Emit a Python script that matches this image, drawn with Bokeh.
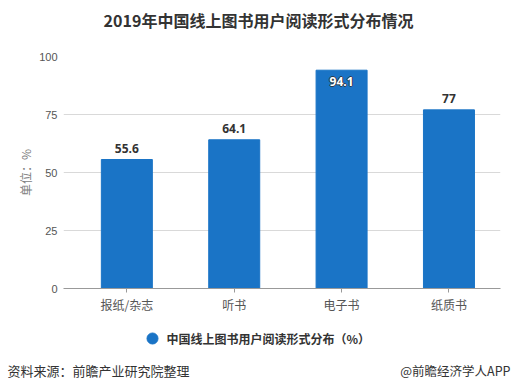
from bokeh.plotting import figure
from bokeh.layouts import column
from bokeh.models import FixedTicker, ColumnDataSource, Range1d
from bokeh.core.properties import value
from bokeh.embed import file_html
from bokeh.resources import INLINE

categories = ["报纸/杂志", "听书", "电子书", "纸质书"]
values = [55.6, 64.1, 94.1, 77]
value_labels = ["55.6", "64.1", "94.1", "77"]
y_ticks = [0, 25, 50, 75, 100]
title_text = "2019年中国线上图书用户阅读形式分布情况"
legend_text = "中国线上图书用户阅读形式分布（%）"
source_text = "资料来源：前瞻产业研究院整理"
brand_text = "@前瞻经济学人APP"
y_label = "单位：%"

FONT = "Noto Sans CJK SC"
BAR = "#1a74c6"
W = 516
H_HEAD, H_MAIN, H_FOOT = 40, 280, 71


def blank(h):
    f = figure(width=W, height=h, output_backend="svg", toolbar_location=None,
               x_range=Range1d(0, W), y_range=Range1d(h, 0),
               x_axis_location=None, y_axis_location=None, min_border=0,
               frame_align=False)
    f.grid.visible = False
    f.outline_line_color = None
    f.background_fill_color = "white"
    f.border_fill_color = "white"
    return f


# header
head = blank(H_HEAD)
head.text(x=[258], y=[19], text=[title_text], text_align="center", text_baseline="middle",
          text_font=value(FONT), text_font_size="16px", text_font_style="bold",
          text_color="#333333")

# main chart
xs = list(range(len(categories)))
p = figure(width=W, height=H_MAIN, output_backend="svg", toolbar_location=None,
           x_range=Range1d(-0.59, 3.48), y_range=Range1d(0, 100),
           min_border_left=63, min_border_right=16, min_border_top=16, min_border_bottom=32,
           frame_align=False)
p.outline_line_color = None
p.background_fill_color = "white"
p.border_fill_color = "white"

src = ColumnDataSource(dict(x=xs, top=values))
p.vbar(x="x", top="top", width=0.475, source=src, color=BAR)

inside = [v > 90 for v in values]
out_src = ColumnDataSource(dict(x=[x for x, i in zip(xs, inside) if not i],
                                y=[v for v, i in zip(values, inside) if not i],
                                lab=[l for l, i in zip(value_labels, inside) if not i]))
in_src = ColumnDataSource(dict(x=[x for x, i in zip(xs, inside) if i],
                               y=[v for v, i in zip(values, inside) if i],
                               lab=[l for l, i in zip(value_labels, inside) if i]))
p.text(x="x", y="y", text="lab", source=out_src, text_align="center", text_baseline="bottom",
       y_offset=-7, text_font=value("Open Sans"), text_font_style="bold", text_font_size="12px",
       text_color="#333333")
for dx, dy in [(-1, 0), (1, 0), (0, -1), (0, 1)]:
    p.text(x="x", y="y", text="lab", source=in_src, text_align="center", text_baseline="top",
           x_offset=dx, y_offset=7 + dy, text_font=value("Open Sans"), text_font_style="bold",
           text_font_size="12px", text_color="#2a3a4a")
p.text(x="x", y="y", text="lab", source=in_src, text_align="center", text_baseline="top",
       y_offset=7, text_font=value("Open Sans"), text_font_style="bold", text_font_size="12px",
       text_color="white")

p.xaxis.ticker = FixedTicker(ticks=xs)
p.xaxis.major_label_overrides = {i: c for i, c in enumerate(categories)}
p.xaxis.major_tick_line_color = "#999999"
p.xaxis.major_tick_in = 0
p.xaxis.major_tick_out = 4
p.xaxis.minor_tick_line_color = None
p.xaxis.axis_line_color = "#999999"
p.xaxis.major_label_text_font = FONT
p.xaxis.major_label_text_font_size = "12px"
p.xaxis.major_label_text_color = "#555555"
p.xaxis.major_label_standoff = 3
p.xgrid.grid_line_color = None

p.yaxis.ticker = FixedTicker(ticks=y_ticks)
p.yaxis.axis_line_color = None
p.yaxis.major_tick_line_color = None
p.yaxis.major_tick_in = 0
p.yaxis.major_tick_out = 0
p.yaxis.minor_tick_line_color = None
p.yaxis.major_label_text_font = "Liberation Sans"
p.yaxis.major_label_text_font_size = "11px"
p.yaxis.major_label_text_color = "#555555"
p.yaxis.major_label_standoff = 6
p.yaxis.axis_label = y_label
p.yaxis.axis_label_text_font = FONT
p.yaxis.axis_label_text_font_size = "12px"
p.yaxis.axis_label_text_font_style = "normal"
p.yaxis.axis_label_text_color = "#808080"
p.yaxis.axis_label_standoff = 2
p.ygrid.grid_line_color = "#d9d9d9"

# footer: legend + source
foot = blank(H_FOOT)
foot.scatter(x=[152], y=[18], size=11, color=BAR)
foot.text(x=[166], y=[18], text=[legend_text], text_align="left", text_baseline="middle",
          text_font=value(FONT), text_font_size="12px", text_font_style="bold",
          text_color="#333333")
foot.text(x=[7], y=[50], text=[source_text], text_align="left", text_baseline="middle",
          text_font=value(FONT), text_font_size="13px", text_color="#333333")
foot.text(x=[510], y=[50], text=[brand_text], text_align="right", text_baseline="middle",
          text_font=value(FONT), text_font_size="12.5px", text_color="#333333")

layout = column(head, p, foot, spacing=0)
open("out.html", "w").write(file_html(layout, INLINE))
